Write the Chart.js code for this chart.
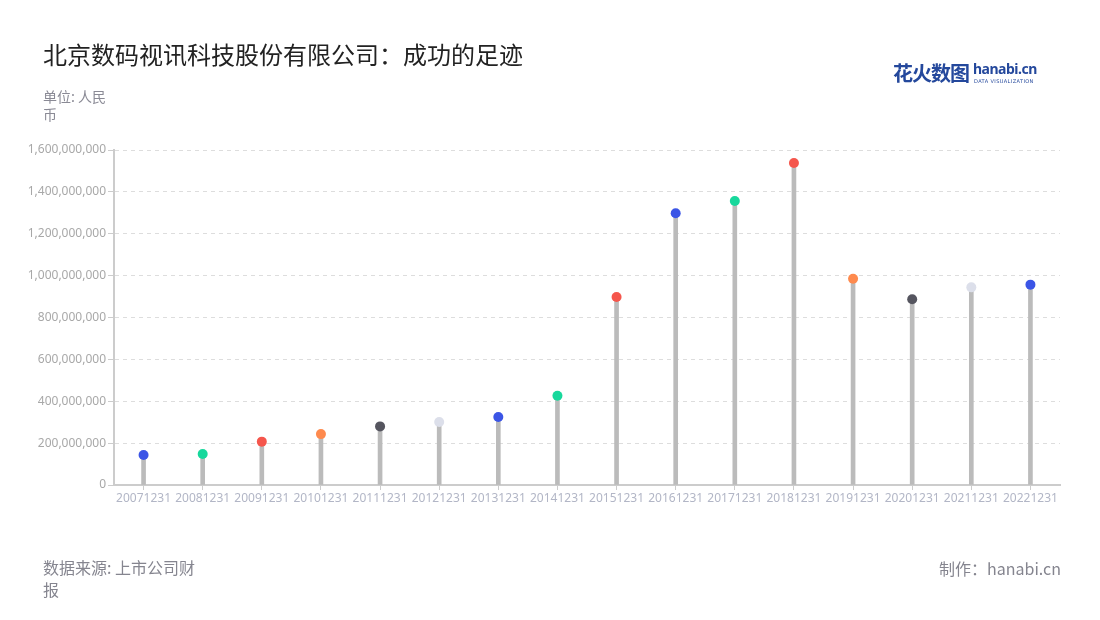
<!DOCTYPE html>
<html>
<head>
<meta charset="utf-8">
<script src="https://cdn.jsdelivr.net/npm/chart.js@4"></script>
<style>
  body { margin: 0; background: #fff; font-family: "Noto Sans CJK SC", "Noto Sans", sans-serif; }
  #wrap { position: relative; width: 1100px; height: 620px; overflow: hidden; }
  #chart { position: absolute; left: 0; top: 0; }
  .txt { position: absolute; white-space: nowrap; }
  #title { left: 43px; top: 36px; font-size: 24px; color: #222; }
  #unit { left: 43px; top: 87px; font-size: 14px; color: #8a8a95; line-height: 18px; white-space: normal; width: 72px; }
  #source { left: 43px; top: 556px; font-size: 16px; color: #85858f; line-height: 22px; white-space: normal; width: 160px; }
  #credit { right: 39px; top: 556px; font-size: 16px; color: #85858f; }
  #logo { left: 893px; top: 58px; height: 26px; }
  #logo .cn { position: absolute; left: 0; top: 0; font-size: 20px; font-weight: 700; color: #24489c; letter-spacing: -1px; }
  #logo .en { position: absolute; left: 80px; top: 1px; font-size: 14px; font-weight: 700; color: #24489c; font-family: "Noto Sans", sans-serif; letter-spacing: -0.5px; }
  #logo .sub { position: absolute; left: 81px; top: 20px; font-size: 5px; color: #24489c; font-family: "DejaVu Sans", sans-serif; letter-spacing: 0.4px; }
</style>
</head>
<body>
<div id="wrap">
  <canvas id="chart" width="1100" height="620"></canvas>
  <div class="txt" id="title">北京数码视讯科技股份有限公司：成功的足迹</div>
  <div class="txt" id="unit">单位: 人民币</div>
  <div class="txt" id="source">数据来源: 上市公司财报</div>
  <div class="txt" id="credit">制作：hanabi.cn</div>
  <div class="txt" id="logo"><span class="cn">花火数图</span><span class="en">hanabi.cn</span><span class="sub">DATA VISUALIZATION</span></div>
</div>
<script>
// 报告期
const periods = ['20071231', '20081231', '20091231', '20101231', '20111231', '20121231', '20131231', '20141231',
                 '20151231', '20161231', '20171231', '20181231', '20191231', '20201231', '20211231', '20221231'];
// 数值 (人民币)
const values = [143000000, 148000000, 207000000, 243000000, 280000000, 301000000, 325000000, 426000000,
                898000000, 1298000000, 1356000000, 1538000000, 985000000, 887000000, 944000000, 957000000];
// 点的颜色
const dotColors = ['#3b55e6', '#17d89c', '#f5564c', '#fe8a4e', '#55555f', '#dcdfea', '#3b55e6', '#17d89c',
                   '#f5564c', '#3b55e6', '#17d89c', '#f5564c', '#fe8a4e', '#55555f', '#dcdfea', '#3b55e6'];
// 纵轴刻度
const yMax = 1600000000;
const yStep = 200000000;

const ctx = document.getElementById('chart').getContext('2d');
const chart = new Chart(ctx, {
    type: 'bar',
    data: {
        labels: periods,
        datasets: [
            {
                type: 'line',
                data: values,
                showLine: false,
                pointRadius: 5,
                pointHoverRadius: 5,
                pointBorderWidth: 0,
                pointBackgroundColor: dotColors,
                pointBorderColor: dotColors,
                order: 0
            },
            {
                data: values,
                backgroundColor: '#bbbbbb',
                barThickness: 4,
                order: 1
            }
        ]
    },
    options: {
        responsive: false,
        animation: false,
        layout: { padding: { top: 150, left: 0, right: 40, bottom: 0 } },
        plugins: {
            legend: { display: false },
            tooltip: { enabled: false }
        },
        scales: {
            x: {
                offset: true,
                afterFit: function(scale) { scale.height = 135; },
                border: { color: '#cccccc', width: 2 },
                grid: { drawOnChartArea: false, drawTicks: true, tickLength: 5, color: '#cccccc', offset: false },
                ticks: {
                    color: '#b2b6c6',
                    font: { family: 'Noto Sans', size: 12 },
                    maxRotation: 0,
                    autoSkip: false,
                    padding: 1
                }
            },
            y: {
                min: 0,
                max: yMax,
                afterFit: function(scale) { scale.width = 114; },
                border: { color: '#cccccc', width: 2, dash: [4, 4] },
                grid: { color: '#dddddd', tickBorderDash: [0, 0], tickLength: 6, tickColor: '#cccccc' },
                ticks: {
                    stepSize: yStep,
                    color: '#a8a8a8',
                    font: { family: 'Noto Sans', size: 12 },
                    padding: 2,
                    callback: function(v) { return v.toLocaleString('en-US'); }
                }
            }
        }
    }
});
</script>
</body>
</html>
